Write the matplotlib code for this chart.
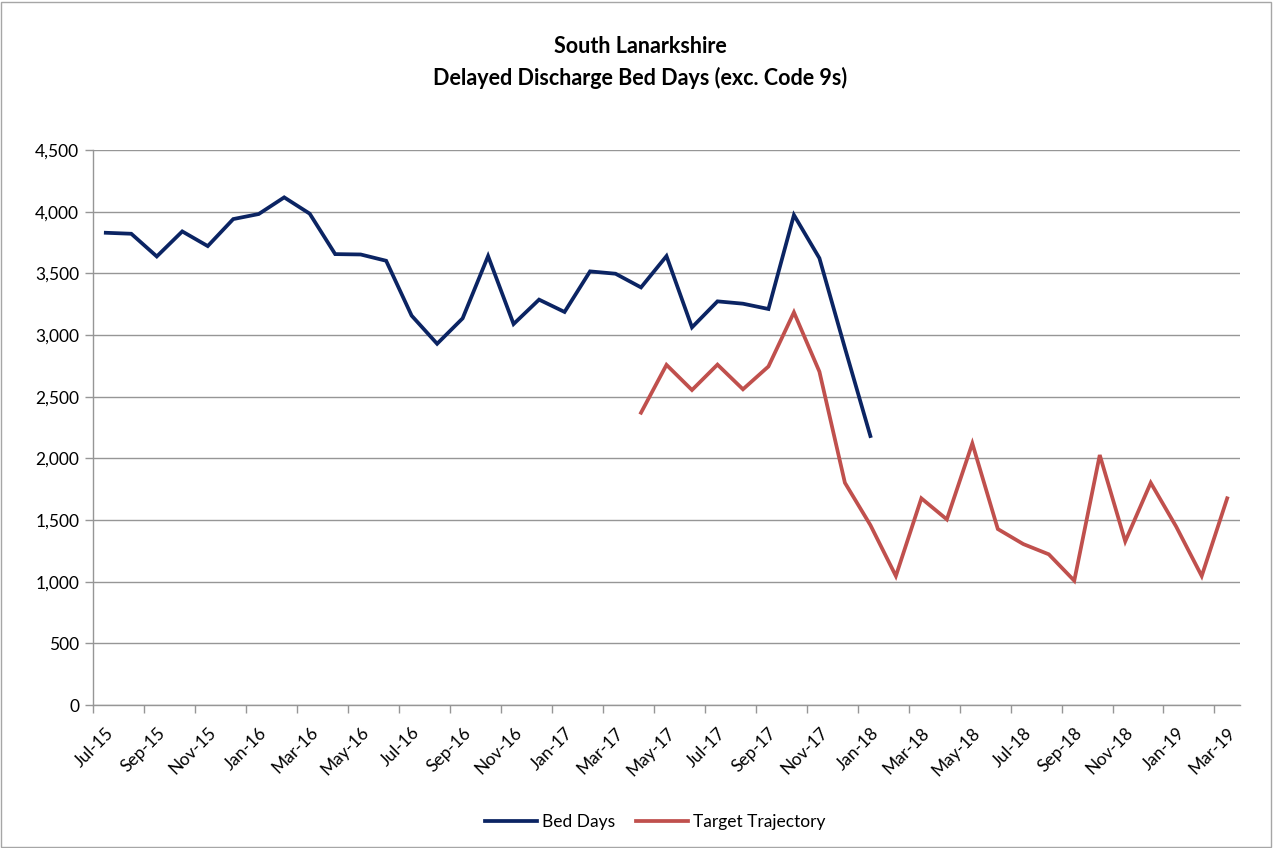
import matplotlib
matplotlib.use('Agg')
import matplotlib.pyplot as plt
import numpy as np
import pandas as pd

plt.rcParams['font.family'] = ['Lato', 'DejaVu Sans']

# months Jul-15 .. Mar-19
months = pd.date_range('2015-07-01', '2019-03-01', freq='MS')
month_labels = [m.strftime('%b-%y') for m in months]

bed_days = [3829, 3821, 3637, 3840, 3721, 3940, 3981, 4116, 3984, 3656,
            3653, 3602, 3157, 2929, 3135, 3640, 3089, 3287, 3187, 3516,
            3497, 3386, 3640, 3062, 3273, 3254, 3211, 3973, 3623, 2895,
            2181]  # Jul-15 .. Jan-18

target = [2370, 2758, 2554, 2760, 2560, 2745, 3184, 2703, 1802, 1459,
          1046, 1676, 1505, 2121, 1427, 1305, 1222, 1008, 2027, 1327,
          1802, 1446, 1046, 1676]  # Apr-17 .. Mar-19

target_start = month_labels.index('Apr-17')

fig = plt.figure(figsize=(12.8, 8.48), dpi=100)
ax = fig.add_axes([0.0727, 0.1686, 0.8960, 0.6545])

# chart border
fig.patches.append(plt.Rectangle((0.001, 0.001), 0.992, 0.997, transform=fig.transFigure,
                                 fill=False, edgecolor='#a6a6a6', linewidth=1))

x_bed = np.arange(len(bed_days))
x_tgt = np.arange(target_start, target_start + len(target))
ax.plot(x_bed, bed_days, color='#0b2463', linewidth=2.7, label='Bed Days',
        solid_joinstyle='miter', zorder=3)
ax.plot(x_tgt, target, color='#c0504d', linewidth=2.7, label='Target Trajectory',
        solid_joinstyle='miter', zorder=3)

ax.set_xlim(-0.5, len(months) - 0.5)
ax.set_ylim(0, 4500)
ax.set_yticks(np.arange(0, 4501, 500))
ax.yaxis.set_major_formatter(matplotlib.ticker.FuncFormatter(lambda v, p: f'{int(v):,}'))
ax.yaxis.grid(True, color='#969696', linewidth=1)
ax.set_axisbelow(True)

idx = np.arange(0, len(months), 2)
ax.set_xticks(idx)
ax.set_xticklabels([month_labels[i] for i in idx], rotation=45, ha='right',
                   rotation_mode='anchor')
ax.set_xticks(idx - 0.5, minor=True)
ax.tick_params(axis='x', which='major', length=0, pad=14, labelsize=12.5)
ax.tick_params(axis='x', which='minor', length=6, color='#969696', width=1)
ax.tick_params(axis='y', length=6, color='#969696', width=1, labelsize=12.5, pad=4)

for s in ['top', 'right']:
    ax.spines[s].set_visible(False)
for s in ['left', 'bottom']:
    ax.spines[s].set_color('#969696')
    ax.spines[s].set_linewidth(1)

fig.text(0.5, 0.945, 'South Lanarkshire', ha='center', va='center',
         fontsize=15.5, fontweight='bold')
fig.text(0.5, 0.908, 'Delayed Discharge Bed Days (exc. Code 9s)', ha='center',
         va='center', fontsize=15.5, fontweight='bold')

fig.legend(loc='center', bbox_to_anchor=(0.512, 0.031), ncol=2, frameon=False,
           fontsize=12.5, handlelength=3, columnspacing=1.2, handletextpad=0.3)

fig.savefig('out.png', dpi=100)
plt.close()
